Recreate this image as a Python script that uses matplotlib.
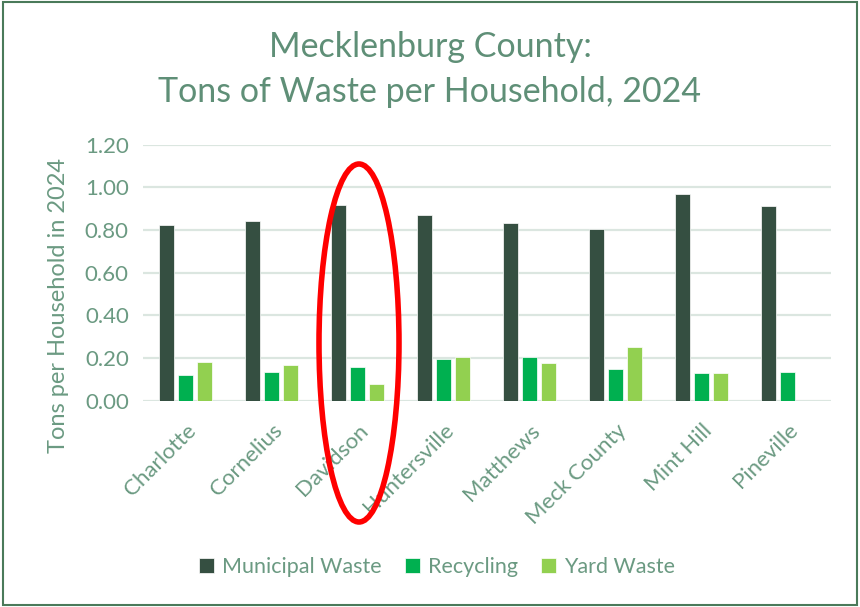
import numpy as np
import matplotlib.pyplot as plt
from matplotlib.patches import Ellipse, Rectangle

places = ['Charlotte', 'Cornelius', 'Davidson', 'Huntersville', 'Matthews',
          'Meck County', 'Mint Hill', 'Pineville']
municipal = [0.825, 0.84, 0.918, 0.87, 0.832, 0.805, 0.97, 0.914]
recycling = [0.12, 0.136, 0.158, 0.194, 0.203, 0.15, 0.128, 0.134]
yard = [0.181, 0.167, 0.077, 0.205, 0.175, 0.253, 0.128, 0.0]
series_names = ['Municipal Waste', 'Recycling', 'Yard Waste']
colors = ['#354f41', '#00b050', '#92d050']
yticks = [0.0, 0.2, 0.4, 0.6, 0.8, 1.0, 1.2]

txt = '#6b9a82'
plt.rcParams['font.family'] = ['Lato', 'DejaVu Sans']

fig = plt.figure(figsize=(8.6, 6.07), dpi=100)
ax = fig.add_axes([142.7 / 860, 1 - 400.7 / 607, 688 / 860, 256 / 607])

x = np.arange(len(places))
w = 0.174
step = 0.222
for i, (vals, name, c) in enumerate(zip([municipal, recycling, yard], series_names, colors)):
    ax.bar(x + (i - 1) * step, vals, w, color=c, edgecolor='#ffffff',
           linewidth=0.5, label=name, zorder=3)

ax.set_xlim(-0.5, len(places) - 0.5)
ax.set_ylim(0, 1.2)
ax.set_yticks(yticks)
ax.set_yticklabels(['%.2f' % v for v in yticks], color=txt, fontsize=16)
ax.set_xticks(x)
ax.set_xticklabels(places, rotation=45, ha='right', va='top',
                   rotation_mode='anchor', color=txt, fontsize=16)
ax.tick_params(axis='both', length=0)
ax.tick_params(axis='x', pad=14)
ax.tick_params(axis='y', pad=10)
ax.grid(axis='y', color='#dbe6e0', linewidth=1.6, zorder=0)
for s in ax.spines.values():
    s.set_visible(False)

ax.set_ylabel('Tons per Household in 2024', color=txt, fontsize=17)
ax.yaxis.set_label_coords(-0.107, 0.37)

fig.text(0.5, 1 - 47 / 607, 'Mecklenburg County:', ha='center', va='center',
         color='#5f8f77', fontsize=24.5)
fig.text(0.5, 1 - 92 / 607, 'Tons of Waste per Household, 2024', ha='center',
         va='center', color='#5f8f77', fontsize=24.5)

leg = fig.legend(loc='center', bbox_to_anchor=(437 / 860, 1 - 567 / 607), ncol=3,
                 frameon=False, fontsize=15.5, handlelength=0.7, handleheight=0.7,
                 columnspacing=1.1, handletextpad=0.35)
for t in leg.get_texts():
    t.set_color(txt)

# red highlight around Davidson
fig.patches.append(Ellipse((359 / 860, 1 - 343 / 607), 80 / 860, 358 / 607,
                           transform=fig.transFigure, fill=False,
                           edgecolor='#ff0000', linewidth=4, zorder=10))

fig.patches.append(Rectangle((0.003, 0.004), 0.994, 0.992, transform=fig.transFigure,
                             fill=False, edgecolor='#4a7a5a', linewidth=1.5))

fig.savefig('out.png', dpi=100)
